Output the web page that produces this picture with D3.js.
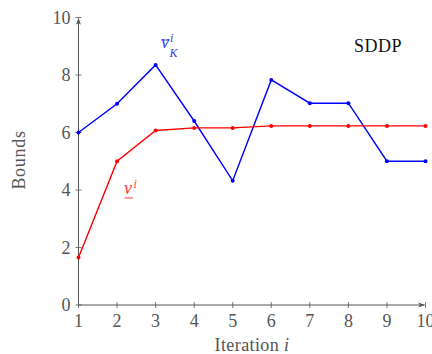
<!DOCTYPE html>
<html>
<head>
<meta charset="utf-8">
<script src="https://cdn.jsdelivr.net/npm/d3@7"></script>
<style>
  body { margin: 0; background: #fff; }
  text { font-family: "Liberation Serif", "DejaVu Serif", serif; }
</style>
</head>
<body>
<svg width="432" height="354"></svg>
<script>
// iterations and bounds
var iterations = [1, 2, 3, 4, 5, 6, 7, 8, 9, 10];
var upperBound = [6.0, 7.0, 8.35, 6.4, 4.32, 7.83, 7.02, 7.02, 5.0, 5.0];
var lowerBound = [1.65, 5.0, 6.07, 6.16, 6.16, 6.23, 6.23, 6.23, 6.23, 6.23];
var yTicks = [0, 2, 4, 6, 8, 10];

var svg = d3.select("svg");
var grey = "#555";

var x = d3.scaleLinear().domain([1, 10]).range([78.5, 425.5]);
var y = d3.scaleLinear().domain([0, 10]).range([305, 17.5]);

svg.append("defs").append("marker")
    .attr("id", "arrow")
    .attr("viewBox", "0 0 10 10")
    .attr("refX", 9).attr("refY", 5)
    .attr("markerWidth", 7).attr("markerHeight", 7)
    .attr("orient", "auto")
    .append("path")
    .attr("d", "M0,1.5 L10,5 L0,8.5 L2.5,5 Z")
    .attr("fill", grey);

// axes lines
svg.append("line")
    .attr("x1", x(1)).attr("x2", x(10) - 1)
    .attr("y1", y(0)).attr("y2", y(0))
    .attr("stroke", grey).attr("stroke-width", 1)
    .attr("marker-end", "url(#arrow)");
svg.append("line")
    .attr("x1", x(1)).attr("x2", x(1))
    .attr("y1", y(0)).attr("y2", y(10) + 1)
    .attr("stroke", grey).attr("stroke-width", 1)
    .attr("marker-end", "url(#arrow)");

// ticks
svg.selectAll(".xt").data(iterations).enter().append("line")
    .attr("x1", function(d) { return x(d); }).attr("x2", function(d) { return x(d); })
    .attr("y1", y(0) - 3).attr("y2", y(0) + 3)
    .attr("stroke", grey).attr("stroke-width", 0.8);
svg.selectAll(".xl").data(iterations).enter().append("text")
    .attr("x", function(d) { return x(d); }).attr("y", y(0) + 22)
    .attr("text-anchor", "middle").attr("font-size", 18).attr("fill", grey)
    .text(function(d) { return d; });

svg.selectAll(".yt").data(yTicks).enter().append("line")
    .attr("x1", x(1) - 3).attr("x2", x(1) + 3)
    .attr("y1", function(d) { return y(d); }).attr("y2", function(d) { return y(d); })
    .attr("stroke", grey).attr("stroke-width", 0.8);
svg.selectAll(".yl").data(yTicks).enter().append("text")
    .attr("x", x(1) - 8).attr("y", function(d) { return y(d) + 6; })
    .attr("text-anchor", "end").attr("font-size", 18).attr("fill", grey)
    .text(function(d) { return d; });

// axis titles
svg.append("text")
    .attr("transform", "translate(25," + 160 + ") rotate(-90)")
    .attr("text-anchor", "middle").attr("font-size", 18).attr("fill", grey)
    .attr("letter-spacing", 0.7)
    .text("Bounds");
var xt = svg.append("text")
    .attr("x", 252).attr("y", 351)
    .attr("text-anchor", "middle").attr("font-size", 18).attr("fill", grey)
    .attr("letter-spacing", 0.4);
xt.append("tspan").text("Iteration ");
xt.append("tspan").attr("font-style", "italic").text("i");

// series
var line = d3.line()
    .x(function(d, i) { return x(iterations[i]); })
    .y(function(d) { return y(d); });

function drawSeries(values, color) {
    svg.append("path")
        .datum(values)
        .attr("d", line)
        .attr("fill", "none")
        .attr("stroke", color)
        .attr("stroke-width", 1.4);
    svg.selectAll(null).data(values).enter().append("circle")
        .attr("cx", function(d, i) { return x(iterations[i]); })
        .attr("cy", function(d) { return y(d); })
        .attr("r", 2)
        .attr("fill", color);
}
drawSeries(upperBound, "#0000ff");
drawSeries(lowerBound, "#ff0000");

// series labels
var blueLbl = "#3838ff", redLbl = "#ff3838";
svg.append("text").attr("x", 161).attr("y", 48)
    .attr("font-size", 18).attr("font-style", "italic").attr("fill", blueLbl).text("v");
svg.append("line").attr("x1", 161.5).attr("x2", 169.5).attr("y1", 40).attr("y2", 40)
    .attr("stroke", blueLbl).attr("stroke-width", 1);
svg.append("text").attr("x", 170).attr("y", 42)
    .attr("font-size", 12).attr("font-style", "italic").attr("fill", blueLbl).text("i");
svg.append("text").attr("x", 169.5).attr("y", 57)
    .attr("font-size", 12).attr("font-style", "italic").attr("fill", blueLbl).text("K");

svg.append("text").attr("x", 124).attr("y", 194)
    .attr("font-size", 18).attr("font-style", "italic").attr("fill", redLbl).text("v");
svg.append("line").attr("x1", 124.5).attr("x2", 133).attr("y1", 198).attr("y2", 198)
    .attr("stroke", redLbl).attr("stroke-width", 1);
svg.append("text").attr("x", 133.5).attr("y", 188)
    .attr("font-size", 12).attr("font-style", "italic").attr("fill", redLbl).text("i");

svg.append("text")
    .attr("x", 354).attr("y", 52)
    .attr("font-size", 18).attr("fill", "#111")
    .attr("letter-spacing", 0.5)
    .text("SDDP");
</script>
</body>
</html>
